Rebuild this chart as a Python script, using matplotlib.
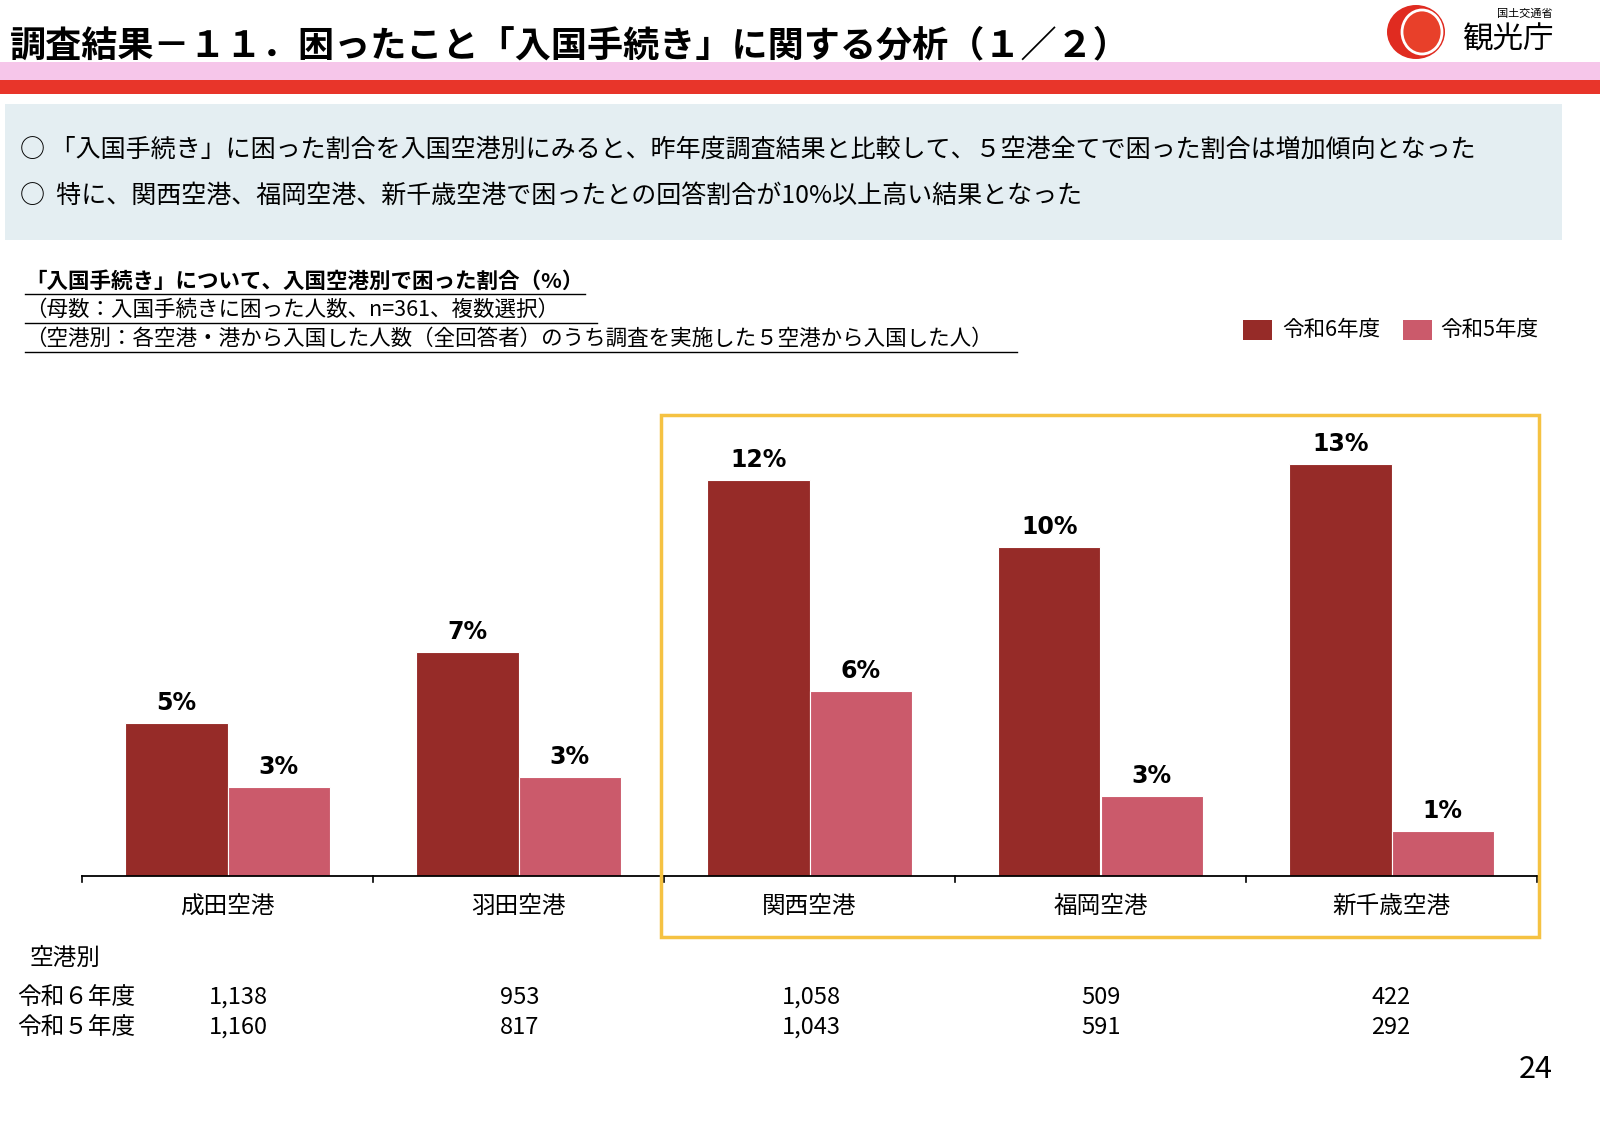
import matplotlib
matplotlib.use("Agg")
import matplotlib.pyplot as plt
from matplotlib.patches import Rectangle, Circle, Ellipse
import numpy as np

plt.rcParams["font.family"] = "Noto Sans CJK JP"

airports = ["成田空港", "羽田空港", "関西空港", "福岡空港", "新千歳空港"]
r6_values = [4.8, 7.0, 12.4, 10.3, 12.9]
r5_values = [2.8, 3.1, 5.8, 2.5, 1.4]
r6_labels = ["5%", "7%", "12%", "10%", "13%"]
r5_labels = ["3%", "3%", "6%", "3%", "1%"]
r6_n = ["1,138", "953", "1,058", "509", "422"]
r5_n = ["1,160", "817", "1,043", "591", "292"]

W, H = 1600, 1122
fig = plt.figure(figsize=(16, 11.22), dpi=100)
fig.patch.set_facecolor("white")

def fx(x): return x / W
def fy(y): return 1 - y / H

def frect(x0, y0, x1, y1, **kw):
    fig.patches.append(Rectangle((fx(x0), fy(y1)), fx(x1) - fx(x0), fy(y0) - fy(y1),
                                 transform=fig.transFigure, **kw))

def ftext(x, y, s, **kw):
    fig.text(fx(x), fy(y), s, **kw)

# header
frect(0, 62, 1600, 80, color="#f6c6ea", lw=0)
frect(0, 80, 1600, 94, color="#e8352a", lw=0)
ftext(10, 46, "調査結果－１１．困ったこと「入国手続き」に関する分析（１／２）",
      fontsize=26, fontweight="bold", va="center", ha="left")
# logo
fig.patches.append(Ellipse((fx(1416), fy(32)), 58 / W, 54 / H, transform=fig.transFigure,
                           color="#e02b20", lw=0))
fig.patches.append(Ellipse((fx(1422), fy(32)), 40 / W, 44 / H, transform=fig.transFigure,
                           facecolor="#e8402a", edgecolor="white", lw=2))
ftext(1497, 14, "国土交通省", fontsize=8, va="center", ha="left")
ftext(1462, 40, "観光庁", fontsize=22, va="center", ha="left")

# info box
frect(5, 104, 1562, 240, color="#e4eef2", lw=0)
ftext(20, 150, "○ 「入国手続き」に困った割合を入国空港別にみると、昨年度調査結果と比較して、５空港全てで困った割合は増加傾向となった",
      fontsize=18, va="center")
ftext(20, 196, "○  特に、関西空港、福岡空港、新千歳空港で困ったとの回答割合が10%以上高い結果となった",
      fontsize=18, va="center")

# subtitles
ftext(25, 281, "「入国手続き」について、入国空港別で困った割合（%）", fontsize=15.5,
      fontweight="bold", va="center")
ftext(25, 310, "（母数：入国手続きに困った人数、n=361、複数選択）", fontsize=15.5, va="center")
ftext(25, 339, "（空港別：各空港・港から入国した人数（全回答者）のうち調査を実施した５空港から入国した人）",
      fontsize=15.5, va="center")
for x1, y in [(585, 294), (597, 323), (1017, 352)]:
    fig.lines.append(plt.Line2D([fx(25), fx(x1)], [fy(y), fy(y)], transform=fig.transFigure,
                                color="black", lw=1))

# legend
c6, c5 = "#962b28", "#cb5a6b"
frect(1243, 320, 1272, 340, color=c6, lw=0)
ftext(1282, 330, "令和6年度", fontsize=15.5, va="center")
frect(1403, 320, 1432, 340, color=c5, lw=0)
ftext(1440, 330, "令和5年度", fontsize=15.5, va="center")

# chart
ax = fig.add_axes([fx(82), fy(876), fx(1537) - fx(82), fy(400) - fy(876)])
x = np.arange(len(airports))
bw = 0.352
b6 = ax.bar(x - bw / 2, r6_values, bw, color=c6, edgecolor="white", linewidth=0.8)
b5 = ax.bar(x + bw / 2, r5_values, bw, color=c5, edgecolor="white", linewidth=0.8)
for bars, labels in [(b6, r6_labels), (b5, r5_labels)]:
    for b, l in zip(bars, labels):
        ax.text(b.get_x() + b.get_width() / 2, b.get_height() + 0.25, l, ha="center",
                va="bottom", fontsize=17, fontweight="bold", fontfamily="DejaVu Sans")
ax.set_xlim(-0.5, len(airports) - 0.5)
ax.set_ylim(0, 14.9)
ax.set_yticks([])
for s in ["top", "right", "left"]:
    ax.spines[s].set_visible(False)
ax.spines["bottom"].set_linewidth(1.3)
ax.set_xticks([])
for xt in np.arange(-0.5, len(airports)):
    ax.plot([xt, xt], [0, -0.2], color="black", lw=1.2, clip_on=False)
for i, a in enumerate(airports):
    ax.text(i, -0.95, a, ha="center", va="center", fontsize=17)

# highlight box
frect(661, 415, 1539, 937, fill=False, edgecolor="#f5c242", lw=2.5)

# table
ftext(30, 958, "空港別", fontsize=17, va="center")
ftext(17, 997, "令和６年度", fontsize=17, va="center")
ftext(17, 1027, "令和５年度", fontsize=17, va="center")
centers = [238, 520, 811, 1101, 1391]
for c, a, b in zip(centers, r6_n, r5_n):
    ftext(c, 997, a, fontsize=17, va="center", ha="center")
    ftext(c, 1027, b, fontsize=17, va="center", ha="center")

ftext(1553, 1070, "24", fontsize=22, va="center", ha="right")

fig.savefig("out.png", dpi=100)
